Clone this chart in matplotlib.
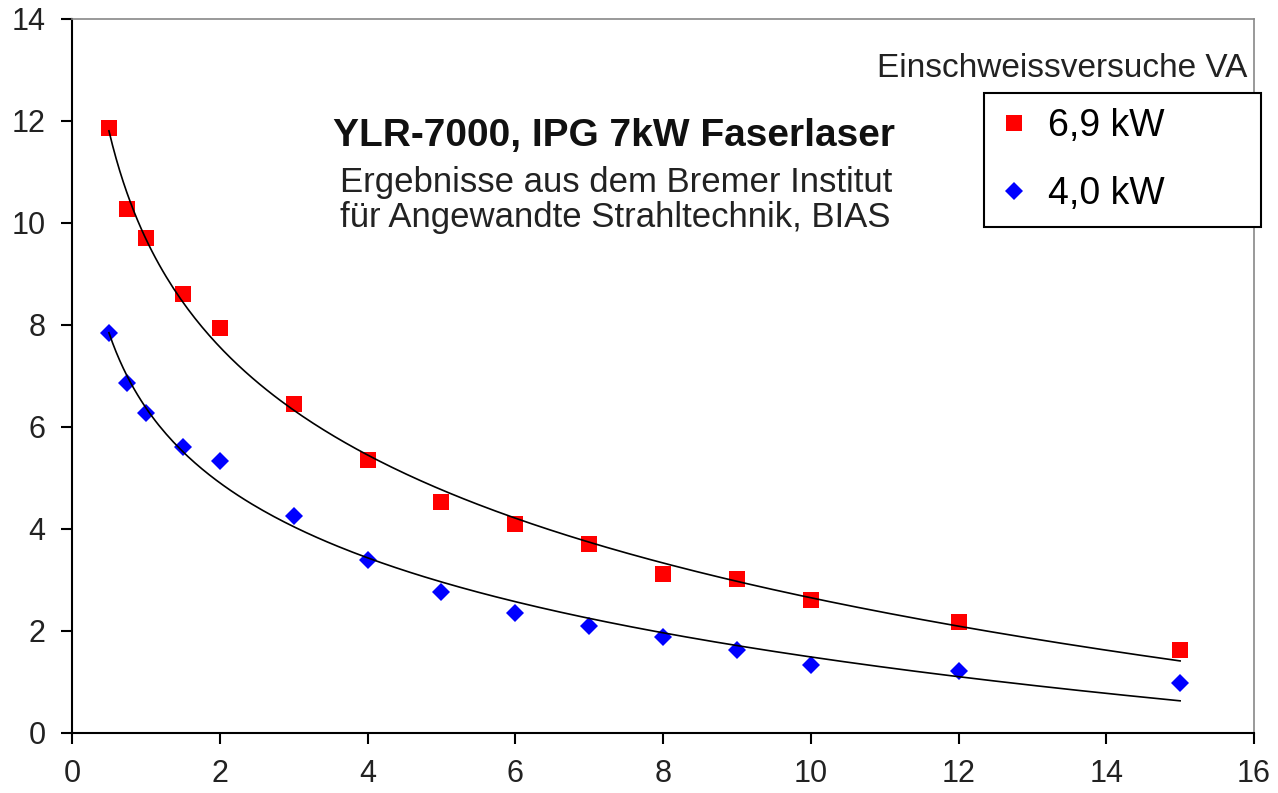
import numpy as np
import matplotlib
matplotlib.use("Agg")
import matplotlib.pyplot as plt

plt.rcParams['font.family'] = ['Liberation Sans', 'DejaVu Sans']

# Einschweisstiefe-Daten
x_vals   = [0.5, 0.75, 1, 1.5, 2, 3, 4, 5, 6, 7, 8, 9, 10, 12, 15]
y_69kw   = [11.87, 10.27, 9.7, 8.6, 7.95, 6.45, 5.35, 4.52, 4.1, 3.7, 3.12, 3.02, 2.6, 2.18, 1.63]
y_40kw   = [7.85, 6.86, 6.28, 5.6, 5.33, 4.25, 3.39, 2.76, 2.36, 2.1, 1.88, 1.62, 1.33, 1.22, 0.98]
labels   = ["6,9 kW", "4,0 kW"]
xticks   = [0, 2, 4, 6, 8, 10, 12, 14, 16]
yticks   = [0, 2, 4, 6, 8, 10, 12, 14]

W, H = 1278, 793
def fx(px): return px / W
def fy(py): return 1 - py / H

fig = plt.figure(figsize=(W / 100, H / 100), dpi=100)
ax = fig.add_axes([fx(72), fy(733), fx(1254) - fx(72), fy(19) - fy(733)])

x = np.array(x_vals)
ax.plot(x, y_69kw, 's', color='#ff0000', ms=12, mew=0, label=labels[0], zorder=2)
ax.plot(x, y_40kw, 'D', color='#0000ff', ms=9, mew=0, label=labels[1], zorder=2)

# logarithmische Trendlinien
xf = np.linspace(x.min(), x.max(), 300)
for ys in (y_69kw, y_40kw):
    b, a = np.polyfit(np.log(x), ys, 1)
    ax.plot(xf, a + b * np.log(xf), color='black', lw=1.2, zorder=3)

ax.set_xlim(0, 16)
ax.set_ylim(0, 14)
ax.set_xticks(xticks)
ax.set_yticks(yticks)
ax.tick_params(direction='out', length=8, width=1.5, colors='black', labelsize=22, labelcolor='#222222')
ax.tick_params(axis='x', pad=11)
ax.tick_params(axis='y', pad=11)

for s in ('left', 'bottom'):
    ax.spines[s].set_color('black')
    ax.spines[s].set_linewidth(1.5)
for s in ('top', 'right'):
    ax.spines[s].set_color('#888888')
    ax.spines[s].set_linewidth(1.2)

fig.text(fx(333), fy(146), "YLR-7000, IPG 7kW Faserlaser", fontsize=28, fontweight='bold', color='#111111')
fig.text(fx(340), fy(192), "Ergebnisse aus dem Bremer Institut", fontsize=25, color='#222222')
fig.text(fx(340), fy(227), "für Angewandte Strahltechnik, BIAS", fontsize=25, color='#222222')
fig.text(fx(1247), fy(77), "Einschweissversuche VA", fontsize=24, color='#222222', ha='right')

leg = fig.legend(loc='upper left', mode='expand',
                 bbox_to_anchor=(fx(984), fy(224), fx(1261) - fx(984), fy(93) - fy(224)),
                 fontsize=27, frameon=True, fancybox=False, edgecolor='black', framealpha=1,
                 handlelength=0.8, handletextpad=0.5, labelspacing=0.85, borderpad=0.4,
                 borderaxespad=0)
leg.get_frame().set_linewidth(1.5)

fig.savefig("out.png", dpi=100)
